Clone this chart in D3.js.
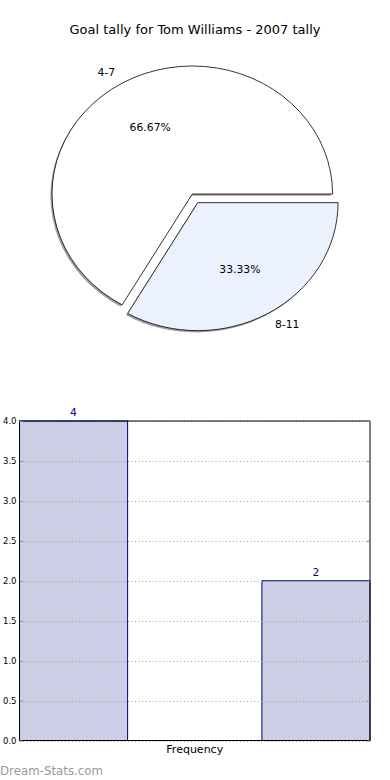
<!DOCTYPE html>
<html><head><meta charset="utf-8">
<script src="https://cdn.jsdelivr.net/npm/d3@7/dist/d3.min.js"></script>
<style>body{margin:0;background:#fff}svg{display:block}text{font-family:"DejaVu Sans",sans-serif}</style>
</head><body><svg id="c" width="390" height="780"></svg>
<script>
const title = "Goal tally for Tom Williams - 2007 tally";
const categories = ["4-7", "8-11"];
const values = [4, 2];
const pieColors = ["#ffffff", "#ebf1fd"];
const explode = [0, 0.078];
const yTicks = [0, 0.5, 1, 1.5, 2, 2.5, 3, 3.5, 4];
const xLabel = "Frequency";
const watermark = "Dream-Stats.com";

const svg = d3.select("#c");
svg.append("rect").attr("width",390).attr("height",780).attr("fill","#fff");

svg.append("text").attr("x",195).attr("y",34).attr("text-anchor","middle")
  .attr("font-size",13).attr("fill","#000").text(title);

// Pie (ellipse: circle scaled)
const cx = 192.3, cy = 194, rx = 140.3, ry = 128;
const total = d3.sum(values);
const pie = d3.pie().sort(null).startAngle(Math.PI/2).endAngle(Math.PI/2 - 2*Math.PI);
const arcs = pie(values);
const arc = d3.arc().innerRadius(0).outerRadius(1);
const pg = svg.append("g");
function off(d,i){const m=(d.startAngle+d.endAngle)/2;return [explode[i]*Math.sin(m), -explode[i]*Math.cos(m)];}
arcs.forEach((d,i)=>{
  const o=off(d,i);
  pg.append("path").attr("d",arc(d))
    .attr("transform",`translate(${cx+o[0]*rx-1.6},${cy+o[1]*ry+1.8}) scale(${rx},${ry})`)
    .attr("fill","#4d4d4d").attr("opacity",0.55);
});
arcs.forEach((d,i)=>{
  const o=off(d,i);
  pg.append("path").attr("d",arc(d))
    .attr("transform",`translate(${cx+o[0]*rx},${cy+o[1]*ry}) scale(${rx},${ry})`)
    .attr("fill",pieColors[i]).attr("stroke","#000").attr("stroke-width",0.8)
    .attr("vector-effect","non-scaling-stroke");
});
arcs.forEach((d,i)=>{
  const o=off(d,i);
  const m=(d.startAngle+d.endAngle)/2;
  const ux=Math.sin(m), uy=-Math.cos(m);
  const bx=cx+o[0]*rx, by=cy+o[1]*ry;
  pg.append("text").attr("x",bx+1.1*ux*rx).attr("y",by+1.1*uy*ry)
    .attr("text-anchor",ux<0?"end":"start").attr("dominant-baseline","central")
    .attr("font-size",10.8).text(categories[i]);
  pg.append("text").attr("x",bx+0.6*ux*rx).attr("y",by+0.6*uy*ry)
    .attr("text-anchor","middle").attr("dominant-baseline","central")
    .attr("font-size",10.8).text(d3.format(".2f")(values[i]/total*100)+"%");
});

// Bar chart
const L=19.5, R=370, T=421, B=740.5;
const x = d3.scaleBand().domain(categories).range([L,R]).paddingInner(0.554).paddingOuter(0);
const y = d3.scaleLinear().domain([0,4]).range([B,T]);
const bg = svg.append("g");
bg.selectAll("rect.bar").data(values).join("rect")
  .attr("x",(d,i)=>x(categories[i])).attr("width",x.bandwidth())
  .attr("y",d=>y(d)).attr("height",d=>B-y(d))
  .attr("fill","#cdcde6").attr("stroke","#000080").attr("stroke-width",1);
bg.selectAll("line.grid").data(yTicks).join("line")
  .attr("x1",L).attr("x2",R).attr("y1",d=>Math.round(y(d))+0.5).attr("y2",d=>Math.round(y(d))+0.5)
  .attr("stroke","#a0a0a0").attr("stroke-width",1).attr("stroke-dasharray","1,2.5");
bg.selectAll("text.val").data(values).join("text")
  .attr("x",(d,i)=>x(categories[i])+x.bandwidth()/2).attr("y",d=>y(d)-5)
  .attr("text-anchor","middle").attr("font-size",10.8).attr("fill","#000080").text(d=>d);
bg.append("rect").attr("x",L).attr("y",T).attr("width",R-L).attr("height",B-T)
  .attr("fill","none").attr("stroke","#000").attr("stroke-width",1);
const ya = d3.axisLeft(y).tickValues(yTicks).tickFormat(d3.format(".1f")).tickSize(-3).tickPadding(4);
const yg = bg.append("g").attr("transform",`translate(${L},0)`).call(ya);
yg.select(".domain").remove();
yg.selectAll(".tick line").attr("stroke","#888");
yg.selectAll(".tick text").attr("font-size",8.5).attr("font-family","DejaVu Sans").attr("fill","#000").attr("x",-3);
const ya2 = d3.axisRight(y).tickValues(yTicks).tickFormat("").tickSize(-3);
const yg2 = bg.append("g").attr("transform",`translate(${R},0)`).call(ya2);
yg2.select(".domain").remove();
yg2.selectAll(".tick line").attr("stroke","#888");
bg.append("text").attr("x",(L+R)/2).attr("y",753).attr("text-anchor","middle")
  .attr("font-size",11).text(xLabel);
svg.append("text").attr("x",0).attr("y",775).attr("font-size",11.8)
  .attr("fill","#999").text(watermark);
</script></body></html>
